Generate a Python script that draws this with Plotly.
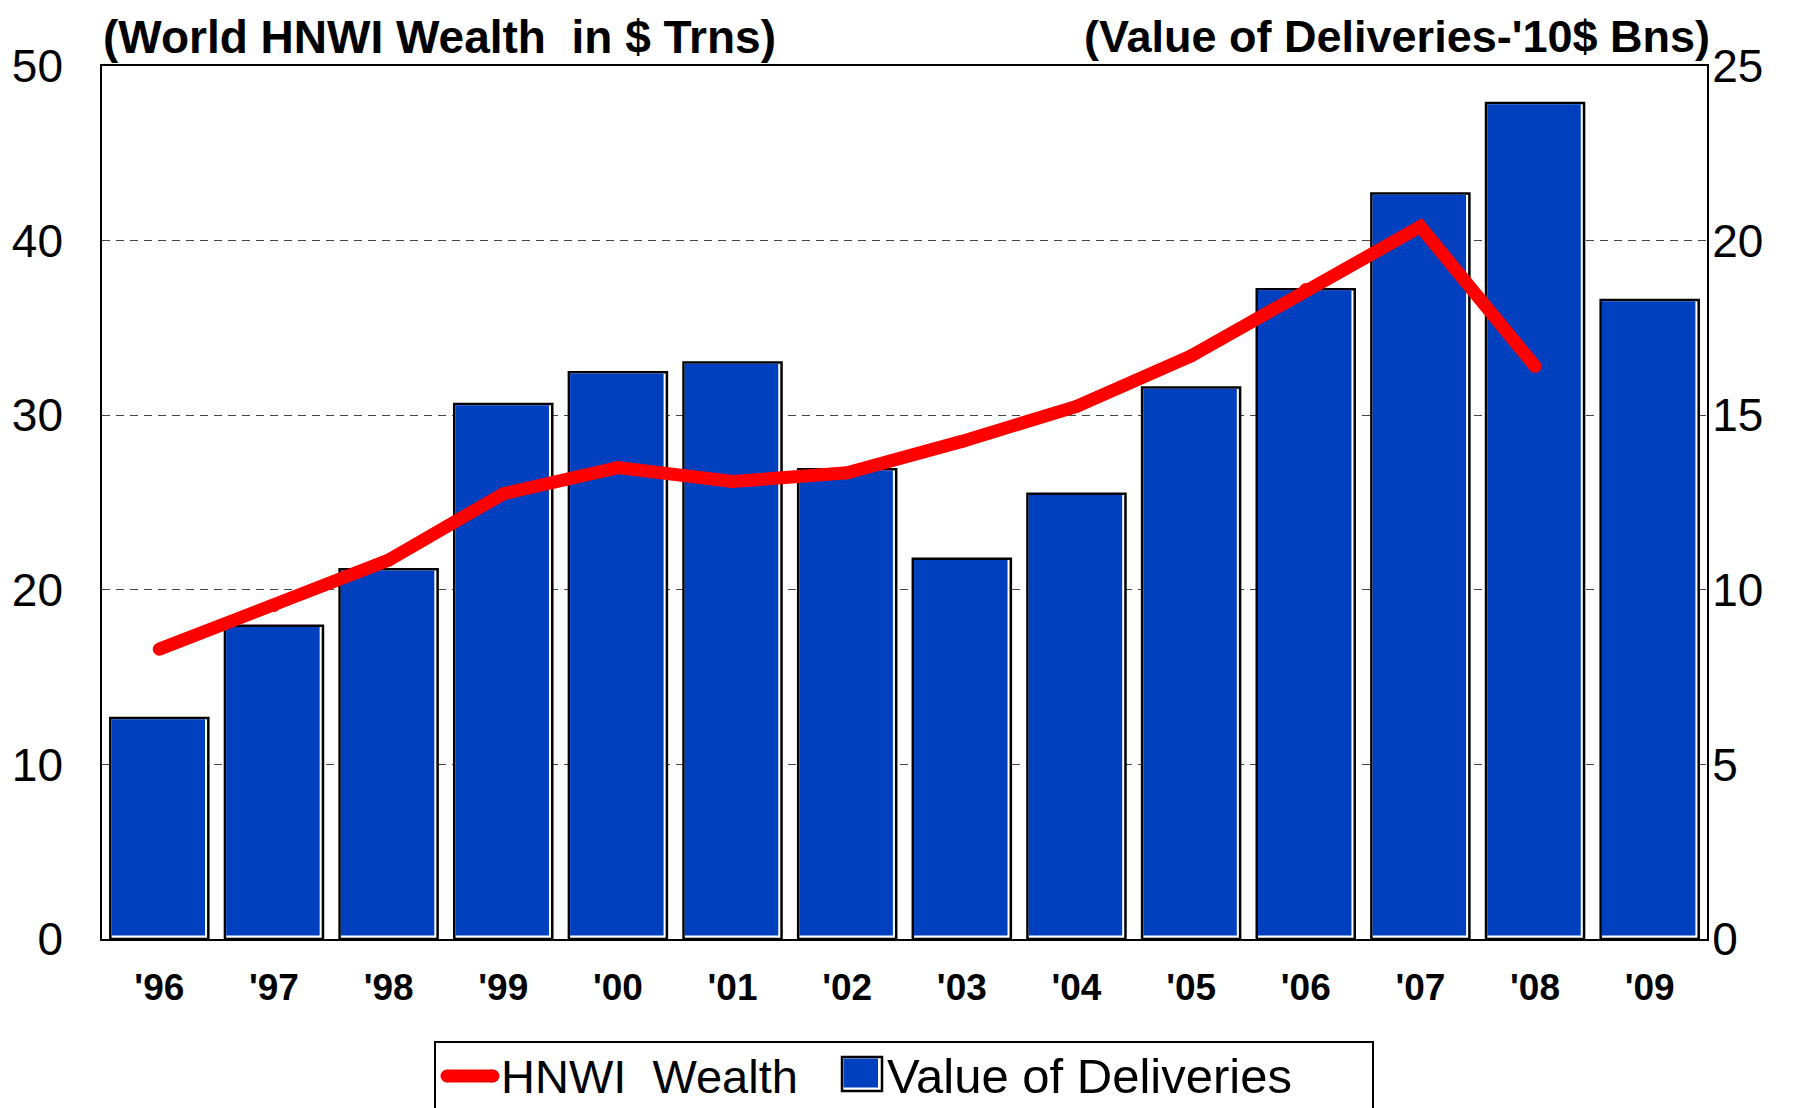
import plotly.graph_objects as go

years = ["'96", "'97", "'98", "'99", "'00", "'01", "'02", "'03", "'04", "'05", "'06", "'07", "'08", "'09"]
deliveries = [6.33, 8.97, 10.59, 15.32, 16.23, 16.51, 13.45, 10.89, 12.75, 15.79, 18.61, 21.35, 23.94, 18.3]
wealth = [16.6, 19.1, 21.7, 25.5, 27.0, 26.2, 26.7, 28.5, 30.5, 33.4, 37.2, 40.8, 32.8, None]

left_ticks = [0, 10, 20, 30, 40, 50]
right_ticks = [0, 5, 10, 15, 20, 25]

W, H = 1805, 1108
OFF = 8  # default page body margin
PL, PR, PT, PB = 102, 1707, 66, 939  # plot area in page pixels
ML, MT = PL - OFF, PT - OFF
MR, MB = W - (PR - OFF), H - (PB - OFF)
plot_w = PR - PL
plot_h = PB - PT
cat_px = plot_w / len(years)
y_px = plot_h / 25.0

BLUE = "#0040BF"
RED = "#FF0000"
FONT = "Liberation Sans, Arial, sans-serif"

bw = 0.855
fig = go.Figure()
fig.add_trace(go.Bar(x=list(range(len(years))), y=deliveries, width=bw,
                     marker=dict(color="white", line=dict(color="black", width=2.5)),
                     yaxis="y", showlegend=False, hoverinfo="skip"))
inner_base = 3.5 / y_px
fig.add_trace(go.Bar(x=list(range(len(years))),
                     y=[v - inner_base - 1.2 / y_px for v in deliveries],
                     base=inner_base,
                     width=bw - 4.5 / cat_px, offset=-bw / 2 + 1.2 / cat_px,
                     marker=dict(color=BLUE, line=dict(width=0)),
                     yaxis="y", name="Value of Deliveries", showlegend=False))
fig.add_trace(go.Scatter(x=list(range(len(years))), y=wealth, mode="lines+markers",
                         line=dict(color=RED, width=13), marker=dict(color=RED, size=13),
                         yaxis="y2", name="HNWI  Wealth", showlegend=False,
                         connectgaps=False))

fig.update_layout(
    width=W, height=H,
    margin=dict(l=ML, r=MR, t=MT, b=MB, autoexpand=False),
    paper_bgcolor="white", plot_bgcolor="white",
    barmode="overlay",
    font=dict(family=FONT, color="black"),
    xaxis=dict(range=[-0.5, len(years) - 0.5], tickmode="array",
               tickvals=list(range(len(years))), ticktext=years,
               tickfont=dict(family=FONT, size=37, color="black", weight="bold"),
               showline=True, linecolor="black", linewidth=2, mirror=True,
               showgrid=False, zeroline=False, ticks="", ticklabelstandoff=15),
    yaxis=dict(range=[0, 25], side="right", tickvals=right_ticks,
               tickfont=dict(size=46, color="black"),
               showgrid=True, gridcolor="#444444", gridwidth=1, griddash="8px,6px",
               showline=True, linecolor="black", linewidth=2, mirror=True,
               zeroline=False, ticks="", ticklabelstandoff=-6),
    yaxis2=dict(range=[0, 50], side="left", overlaying="y", tickvals=left_ticks,
                tickfont=dict(size=46, color="black"),
                showgrid=False, zeroline=False, showline=False, ticks="",
                ticklabelstandoff=38),
)


def px_x(px):
    return (px - PL) / plot_w


def px_y(py):
    return (PB - py) / plot_h


annotations = [
    dict(text="<b>(World HNWI Wealth  in $ Trns)</b>", xref="paper", yref="paper",
         x=px_x(101), y=px_y(37), xanchor="left", yanchor="middle",
         showarrow=False, font=dict(size=46, family=FONT, color="black")),
    dict(text="<b>(Value of Deliveries-'10$ Bns)</b>", xref="paper", yref="paper",
         x=px_x(1712), y=px_y(OFF + 1), xanchor="right", yanchor="top",
         showarrow=False, font=dict(size=45, family=FONT, color="black")),
]

shapes = []
shapes.append(dict(type="rect", xref="paper", yref="paper", x0=px_x(435), x1=px_x(1373),
                   y0=px_y(1042), y1=px_y(1160), line=dict(color="black", width=2),
                   fillcolor="rgba(0,0,0,0)"))
shapes.append(dict(type="line", xref="paper", yref="paper", x0=px_x(447), x1=px_x(493),
                   y0=px_y(1076), y1=px_y(1076), line=dict(color=RED, width=13)))
for cx in (447, 493):
    shapes.append(dict(type="circle", xref="paper", yref="paper", x0=px_x(cx - 6.5),
                       x1=px_x(cx + 6.5), y0=px_y(1076 - 6.5), y1=px_y(1076 + 6.5),
                       fillcolor=RED, line=dict(width=0)))
shapes.append(dict(type="rect", xref="paper", yref="paper", x0=px_x(842), x1=px_x(882),
                   y0=px_y(1091), y1=px_y(1057), fillcolor="white",
                   line=dict(color="black", width=2.5)))
shapes.append(dict(type="rect", xref="paper", yref="paper", x0=px_x(843.5), x1=px_x(878),
                   y0=px_y(1087.5), y1=px_y(1058.5), fillcolor=BLUE, line=dict(width=0)))

annotations.append(dict(text="HNWI  Wealth", xref="paper", yref="paper",
                        x=px_x(499), y=px_y(1076), xanchor="left", yanchor="middle",
                        showarrow=False, font=dict(size=47, family=FONT, color="black")))
annotations.append(dict(text="Value of Deliveries", xref="paper", yref="paper",
                        x=px_x(885), y=px_y(1076), xanchor="left", yanchor="middle",
                        showarrow=False, font=dict(size=49, family=FONT, color="black")))

fig.update_layout(annotations=annotations, shapes=shapes)
fig.write_html("out.html")
